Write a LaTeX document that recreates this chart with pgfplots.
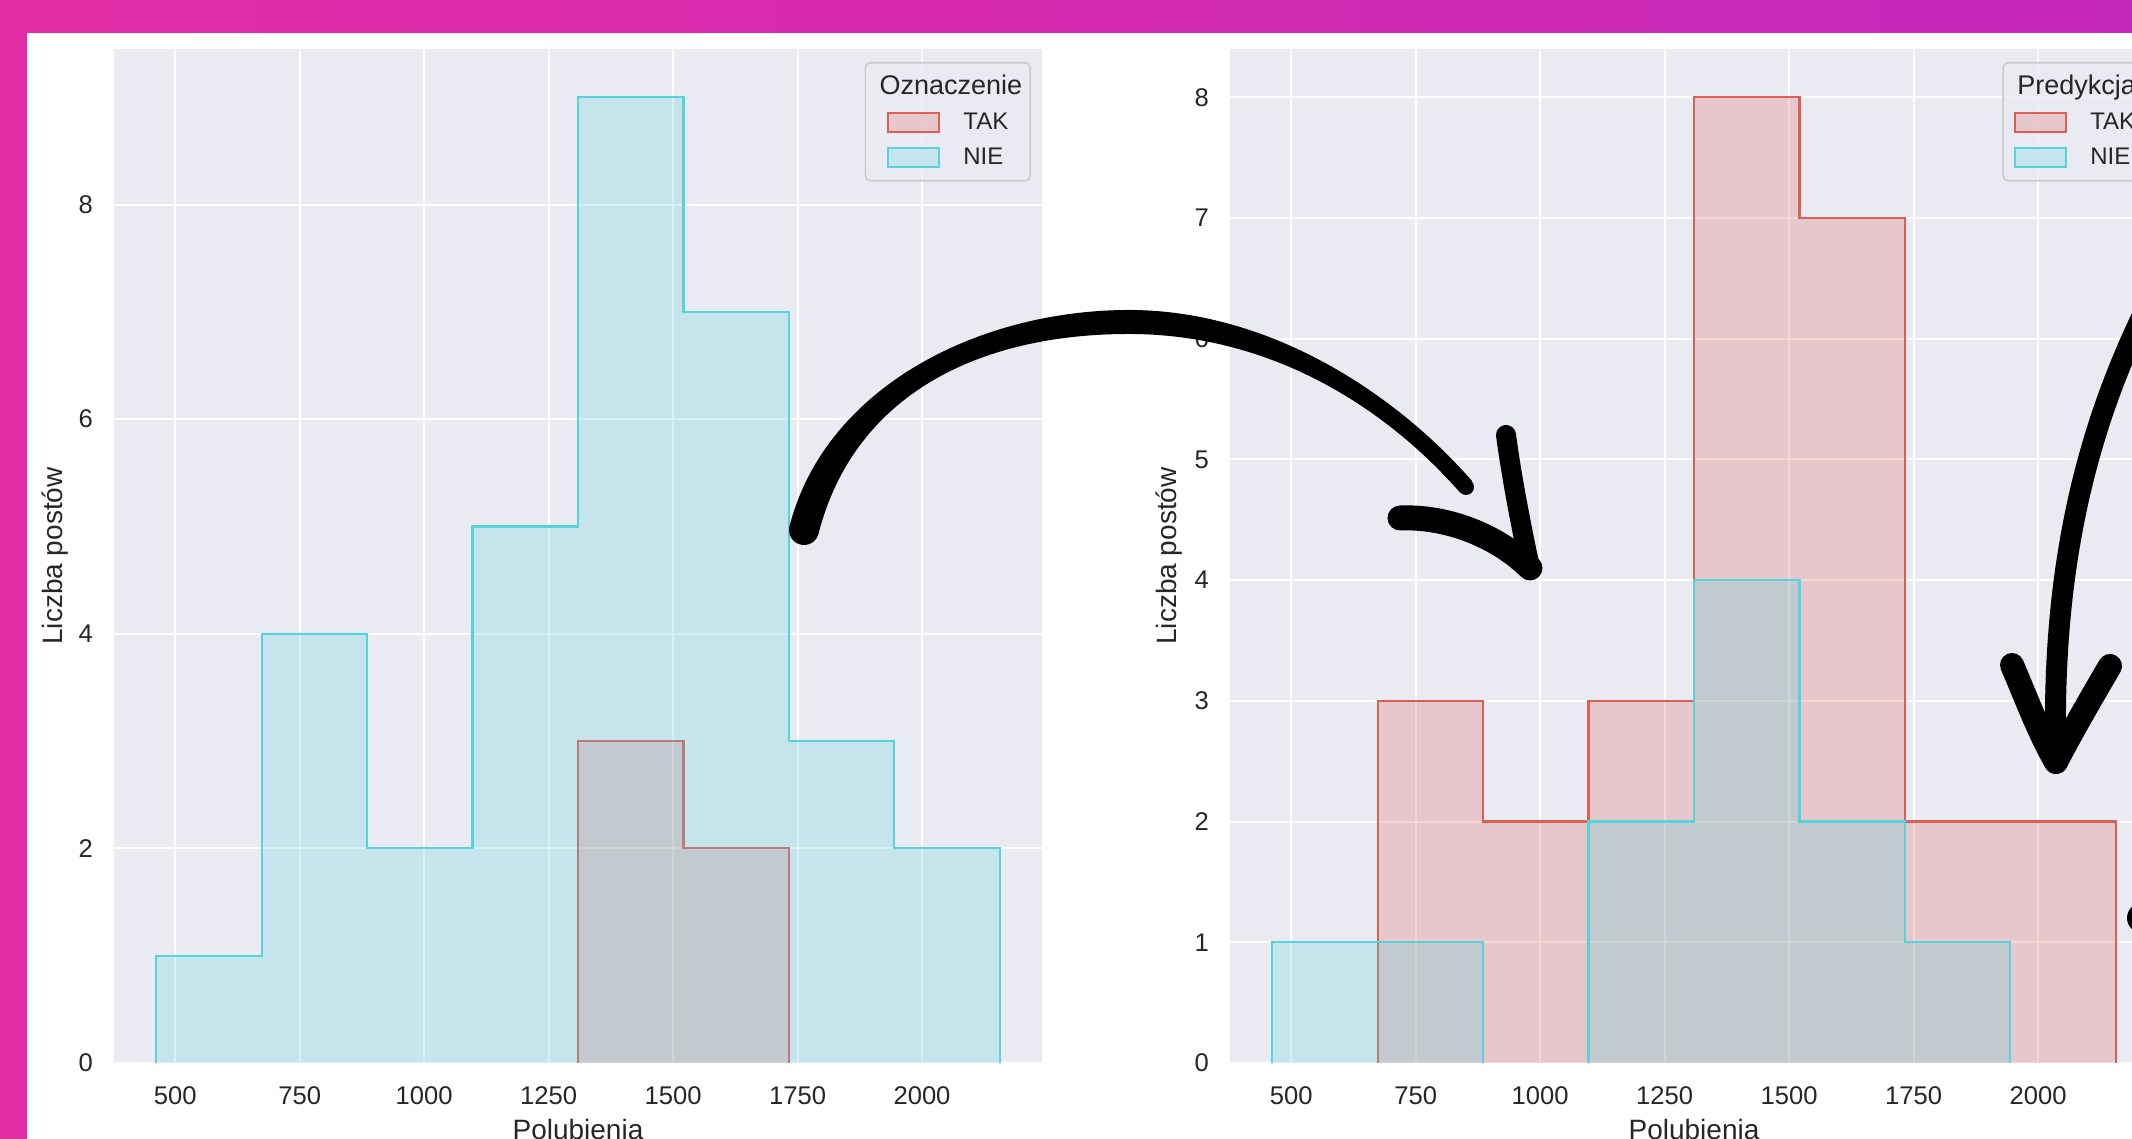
\documentclass[border=0pt]{standalone}
\usepackage{pgfplots}
\pgfplotsset{compat=1.18}
\usepackage{fontspec}
\setmainfont{Liberation Sans}
\definecolor{bg}{HTML}{EAEAF2}
\definecolor{takc}{RGB}{219,95,87}
\definecolor{niec}{RGB}{87,211,219}
\definecolor{txt}{RGB}{38,38,38}
\definecolor{legframe}{RGB}{204,204,204}
\definecolor{magL}{RGB}{226,44,165}
\definecolor{magR}{RGB}{197,40,188}
\newcommand\titlefont{\fontsize{13.5}{16}\selectfont}
\pgfplotsset{
  histax/.style={
    scale only axis, width=464pt, height=507pt, anchor=south west,
    axis background/.style={fill=bg},
    axis line style={draw=none},
    tick style={draw=none},
    grid=major, major grid style={white, line width=1pt},
    major tick length=0pt,
    xmin=377, xmax=2241, ymin=0,
    xtick={500,750,...,2000},
    /pgf/number format/assume math mode=true,
    /pgf/number format/1000 sep={},
    tick label style={font=\fontsize{12.8}{14}\selectfont, text=txt},
    xticklabel style={yshift=-8.5pt},
    yticklabel style={xshift=-7pt},
    label style={font=\fontsize{14}{16}\selectfont, text=txt},
    xlabel={Polubienia},
    ylabel={Liczba postów},
    xlabel style={at={(axis description cs:0.5,-0.0759)}, anchor=base},
    ylabel style={at={(axis description cs:-0.056,0.5)}, anchor=base},
    legend style={
      at={(rel axis cs:1,1)}, anchor=north east, xshift=-5.5pt, yshift=-6.5pt,
      draw=legframe, rounded corners=2.5pt, line width=0.8pt,
      fill=bg, fill opacity=0.8, draw opacity=1, text opacity=1,
      inner ysep=6.3pt,
      font=\fontsize{12}{14}\selectfont, text=txt,
      row sep=7pt, column sep=11.5pt,
      nodes={inner sep=0pt},
      cells={anchor=west},
    },
  },
  takst/.style={const plot, draw=takc, line width=1.1pt, fill=takc, fill opacity=0.25,
    legend image code/.code={\draw[draw=takc,fill=takc,fill opacity=0.25,line width=1.1pt,sharp corners] (0pt,-4.75pt) rectangle (25.5pt,4.75pt);}},
  niest/.style={const plot, draw=niec, line width=1.1pt, fill=niec, fill opacity=0.25,
    legend image code/.code={\draw[draw=niec,fill=niec,fill opacity=0.25,line width=1.1pt,sharp corners] (0pt,-4.75pt) rectangle (25.5pt,4.75pt);}},
}
\begin{document}
\begin{tikzpicture}
\useasboundingbox (0,0) rectangle (1066pt,569.5pt);
\clip (0,0) rectangle (1066pt,569.5pt);
\fill[white] (0,0) rectangle (1066pt,569.5pt);
\shade[left color=magL, right color=magR] (0,553pt) rectangle (1066pt,569.5pt);
\fill[magL] (0,0) rectangle (13.5pt,553.1pt);

% ---------------- left axis ----------------
\begin{axis}[histax, at={(57pt,38pt)}, ymax=9.45, ytick={0,2,4,6,8},
  legend style={inner xsep=10.95pt}]
\addlegendimage{empty legend}
\addlegendentry{\makebox[0pt][l]{\hspace*{-42.45pt}\titlefont\smash{Oznaczenie}}\rule{0pt}{9.7pt}}
\addplot[takst] coordinates {(1309,0)(1309,3)(1520.75,2)(1732.5,2)(1732.5,0)};
\addlegendentry{TAK}
\addplot[niest] coordinates {(462,0)(462,1)(673.75,4)(885.5,2)(1097.25,5)(1309,9)(1520.75,7)(1732.5,3)(1944.25,2)(2156,2)(2156,0)};
\addlegendentry{NIE}
\end{axis}

% ---------------- right axis ----------------
\begin{axis}[histax, at={(615pt,38pt)}, ymax=8.4, ytick={0,1,...,8},
  ylabel style={at={(axis description cs:-0.0575,0.5)}},
  legend style={inner xsep=5.5pt}]
\addlegendimage{empty legend}
\addlegendentry{\makebox[0pt][l]{\hspace*{-37pt}\titlefont\smash{Predykcja}}\rule{0pt}{9.7pt}}
\addplot[takst] coordinates {(673.75,0)(673.75,3)(885.5,2)(1097.25,3)(1309,8)(1520.75,7)(1732.5,2)(1944.25,2)(2156,2)(2156,0)};
\addlegendentry{TAK}
\addplot[niest] coordinates {(462,0)(462,1)(673.75,1)(885.5,1)(885.5,0)};
\addlegendentry{NIE}
\addplot[niest, forget plot] coordinates {(1097.25,0)(1097.25,2)(1309,4)(1520.75,2)(1732.5,1)(1944.25,1)(1944.25,0)};
\end{axis}

% ---------------- hand-drawn arrows (decoration) ----------------
\begin{scope}[x=0.5pt,y=-0.5pt,shift={(0,569.5pt)}]
  \fill[black] (789.5,526.3) .. controls (825.5,386.3) and (980,310) .. (1129,310)
     .. controls (1270,310) and (1396,394) .. (1472,481)
     -- (1460,492.5) .. controls (1384,406) and (1270,334) .. (1129,334)
     .. controls (980,334) and (854.5,393.7) .. (818.5,533.7) -- cycle;
  \fill[black] (804,530) circle (15);
  \fill[black] (1466,487) circle (8);
  \draw[black, line width=10pt, line cap=round] (1506,435) .. controls (1512,480) and (1522,530) .. (1530,568);
  \draw[black, line width=12.5pt, line cap=round] (1400,518) .. controls (1450,516) and (1500,538) .. (1530,568);
  \draw[black, line width=10.5pt, line cap=round] (2150,300) .. controls (2090,420) and (2050,560) .. (2056,762);
  \draw[black, line width=12pt, line cap=round] (2012,665) .. controls (2027,700) and (2040,735) .. (2056,762);
  \draw[black, line width=12pt, line cap=round] (2110,666) .. controls (2090,700) and (2070,735) .. (2056,762);
  \fill[black] (2142,918) circle (15);
\end{scope}
\end{tikzpicture}
\end{document}
